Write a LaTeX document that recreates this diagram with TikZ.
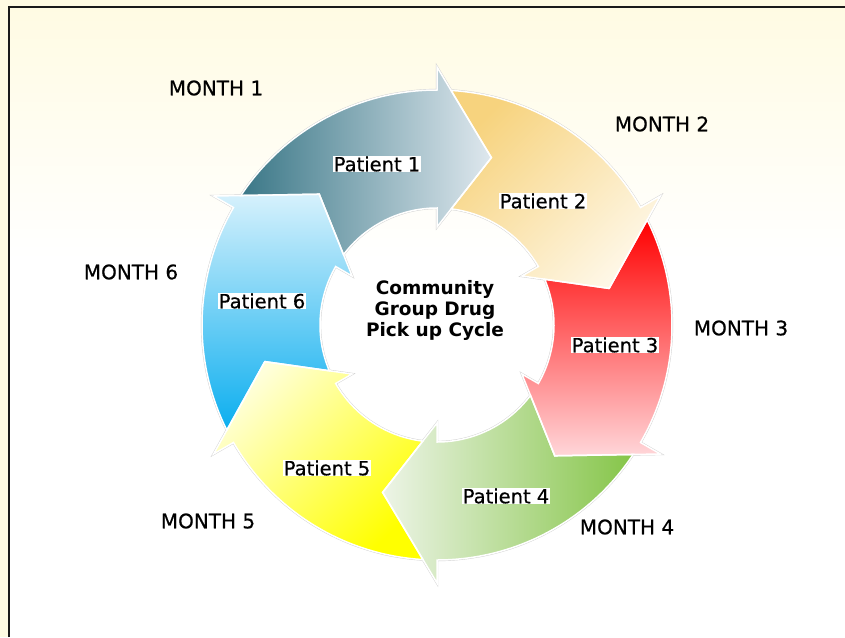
\documentclass[tikz,border=0pt]{standalone}
\usepackage{fontspec}
\setmainfont{DejaVu Sans}
\newfontfamily\heavylabelfont[FakeBold=0.6]{DejaVu Sans}
\definecolor{bgyellow}{HTML}{FFFBE3}
\definecolor{framecol}{HTML}{1A1A1A}
\definecolor{tealdark}{HTML}{3A7787}
\definecolor{tealpale}{HTML}{DFE8EE}
\definecolor{golddark}{HTML}{F7D37E}
\definecolor{goldpale}{HTML}{FEF7E6}
\definecolor{reddark}{HTML}{FF0000}
\definecolor{redpale}{HTML}{FFD6D9}
\definecolor{greendark}{HTML}{85C548}
\definecolor{greenpale}{HTML}{EDF4E7}
\definecolor{yellowdark}{HTML}{FFFF00}
\definecolor{yellowpale}{HTML}{FFFFDA}
\definecolor{bluedark}{HTML}{0BAEEF}
\definecolor{bluepale}{HTML}{D6F1FC}
\newcommand{\ringarrow}[1]{%
  ({#1+56.57}:235pt) arc[start angle={#1+56.57}, end angle={#1}, radius=235pt]
  -- ({#1}:258pt) -- ({#1-18}:176pt) -- ({#1}:98pt) -- ({#1}:117pt)
  arc[start angle={#1}, end angle={#1+53.02}, radius=117pt]
  -- ({#1+42}:176pt) -- cycle}
\tikzset{
  monthlabel/.style={font=\heavylabelfont\fontsize{20}{24}\selectfont, inner sep=0pt},
  patientlabel/.style={font=\heavylabelfont\fontsize{19.5}{23}\selectfont, fill=white, inner sep=0.5pt},
  centerlabel/.style={font=\bfseries\fontsize{18.5}{21}\selectfont, align=center, inner sep=0pt},
  gapline/.style={draw=white, line width=1.5pt, line join=miter},
  edgeline/.style={draw=black!18, line width=2.3pt, line join=miter}
}
\begin{document}
\begin{tikzpicture}
\useasboundingbox (0pt,0pt) rectangle (845pt,-637pt);
% background
\fill[bgyellow] (0pt,0pt) rectangle (845pt,-637pt);
\shade[top color=bgyellow, bottom color=white] (9pt,-7pt) rectangle (845pt,-260pt);
\fill[white] (9pt,-260pt) rectangle (845pt,-637pt);
\draw[framecol, line width=2pt] (9pt,-637pt) -- (9pt,-7pt) -- (845pt,-7pt);
% ring of arrows
\begin{scope}[shift={(437pt,-325pt)}]
  \foreach \b in {90,30,-30,-90,-150,150} {\draw[edgeline] \ringarrow{\b};}
  \shade[left color=tealdark, right color=tealpale] \ringarrow{90};
  \shade[top color=golddark, bottom color=goldpale, shading angle=45] \ringarrow{30};
  \shade[top color=reddark, bottom color=redpale] \ringarrow{-30};
  \shade[left color=greenpale, right color=greendark] \ringarrow{-90};
  \shade[top color=yellowpale, bottom color=yellowdark, shading angle=45] \ringarrow{-150};
  \shade[top color=bluepale, bottom color=bluedark] \ringarrow{150};
  \foreach \b in {90,30,-30,-90,-150,150} {\draw[gapline] \ringarrow{\b};}
\end{scope}
% labels
\node[centerlabel] (center) at (435pt,-310pt) {Community\\Group Drug\\Pick up Cycle};
\node[patientlabel] (p1) at (377pt,-164pt) {Patient 1};
\node[patientlabel] (p2) at (543pt,-201pt) {Patient 2};
\node[patientlabel] (p3) at (615pt,-345pt) {Patient 3};
\node[patientlabel] (p4) at (506pt,-496pt) {Patient 4};
\node[patientlabel] (p5) at (327pt,-468pt) {Patient 5};
\node[patientlabel] (p6) at (262pt,-301pt) {Patient 6};
\node[monthlabel] (m1) at (216pt,-88pt) {MONTH 1};
\node[monthlabel] (m2) at (662pt,-124pt) {MONTH 2};
\node[monthlabel] (m3) at (741pt,-328pt) {MONTH 3};
\node[monthlabel] (m4) at (627pt,-527pt) {MONTH 4};
\node[monthlabel] (m5) at (208pt,-521pt) {MONTH 5};
\node[monthlabel] (m6) at (131pt,-272pt) {MONTH 6};
\end{tikzpicture}
\end{document}
